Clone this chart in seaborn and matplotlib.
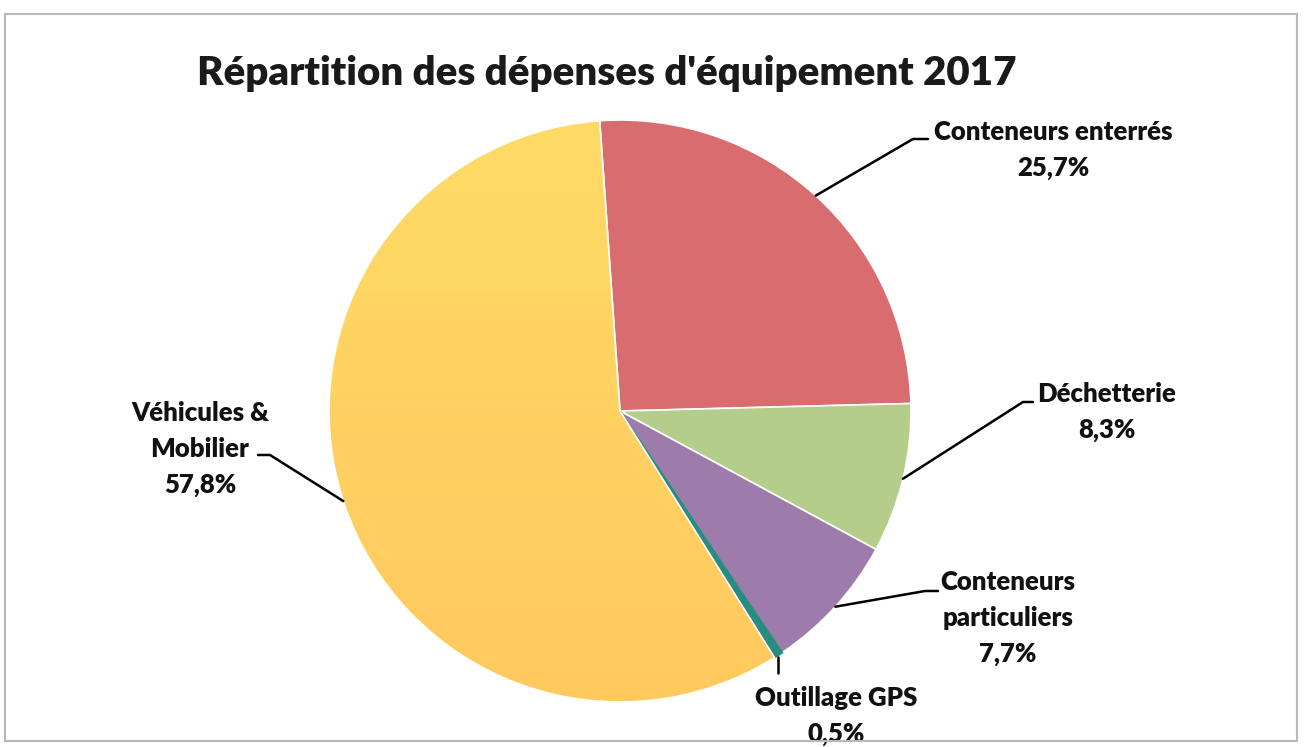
import numpy as np
import matplotlib.pyplot as plt
import seaborn as sns
from matplotlib.patches import Rectangle
from matplotlib.colors import LinearSegmentedColormap

sns.set_theme(style="white")
plt.rcParams['font.family'] = ['Lato', 'DejaVu Sans']

# données
categories = ['Conteneurs enterrés', 'Déchetterie', 'Conteneurs particuliers',
              'Outillage GPS', 'Véhicules & Mobilier']
labels = ['Conteneurs enterrés\n25,7%', 'Déchetterie\n8,3%',
          'Conteneurs\nparticuliers\n7,7%', 'Outillage GPS\n0,5%',
          'Véhicules &\nMobilier\n57,8%']
values = [25.7, 8.3, 7.7, 0.5, 57.8]
colors = ['#D96C6E', '#B5CD8B', '#9D7BAA', '#2A8C80', '#FFD25F']

W, H = 1309, 747
fig = plt.figure(figsize=(W / 100, H / 100), dpi=100)
fig.patch.set_facecolor('white')

# cadre du graphique
fig.patches.append(Rectangle((5 / W, 6 / H), 1292 / W, 727 / H, transform=fig.transFigure,
                             fill=False, edgecolor='#B8B8B8', linewidth=1.5))

cx, cy, r = 620, 411, 291
ax = fig.add_axes([(cx - r) / W, (H - cy - r) / H, 2 * r / W, 2 * r / H])
wedges, _ = ax.pie(values, colors=colors, startangle=94, counterclock=False,
                   wedgeprops=dict(edgecolor='white', linewidth=1.2))
ax.set_xlim(-1, 1)
ax.set_ylim(-1, 1)
ax.set_aspect('equal')
ax.axis('off')

# la petite part GPS un peu plus visible
wedges[3].set_edgecolor(colors[3])
wedges[3].set_linewidth(1.5)

# dégradé sur la part jaune
yel = wedges[-1]
grad = np.linspace(0, 1, 256).reshape(-1, 1)
cmap = LinearSegmentedColormap.from_list('jaune', ['#FFC95E', '#FFDA66'])
im = ax.imshow(grad, cmap=cmap, extent=(-1, 1, -1, 1), origin='lower', aspect='auto', zorder=1.5)
im.set_clip_path(yel)
yel.set_facecolor('none')
yel.set_zorder(2)


def px(x, y):
    return ((x - cx) / r, (cy - y) / r)


# positions des étiquettes (pixels) : coude, fin du trait, centre du texte
elbows = [(913, 139), (1023, 402), (925, 591), None, (270, 455)]
ends = [(928, 139), (1033, 402), (938, 591), None, (258, 455)]
text_pos = [(1053, 150), (1107, 412), (1008, 618), (836, 716), (200, 449)]

for i, w in enumerate(wedges):
    ang = np.deg2rad((w.theta1 + w.theta2) / 2)
    ax0, ay0 = np.cos(ang), np.sin(ang)
    if elbows[i] is not None:
        ex, ey = px(*elbows[i])
        fx, fy = px(*ends[i])
        ax.plot([ax0, ex, fx], [ay0, ey, fy], color='black', lw=1.8, clip_on=False, zorder=5)
    else:
        ex, ey = px(778, 673)
        ax.plot([ax0, ax0], [ay0 - 0.005, ey], color='black', lw=1.8, clip_on=False, zorder=5)
    tx, ty = px(*text_pos[i])
    ax.text(tx, ty, labels[i], ha='center', va='center', fontsize=18.5,
            fontweight='heavy', color='#111111', linespacing=1.6)

fig.text(607 / W, 1 - 74 / H, "Répartition des dépenses d'équipement 2017",
         ha='center', va='center', fontsize=29, fontweight='heavy', color='#1A1A1A')

fig.savefig('out.png', dpi=100, facecolor='white')
